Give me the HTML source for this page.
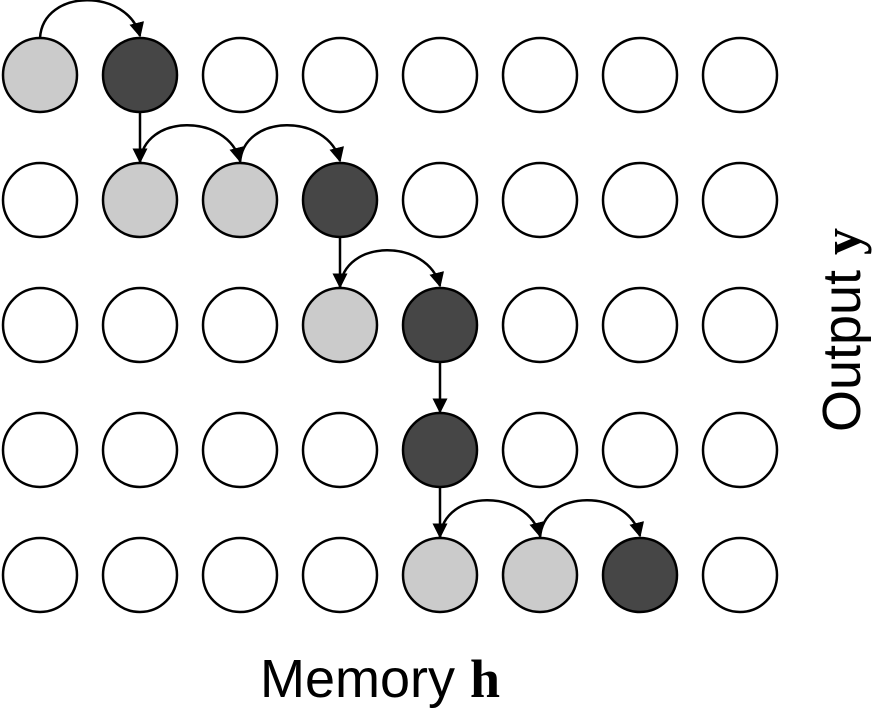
<!DOCTYPE html>
<html>
<head>
<meta charset="utf-8">
<style>
html,body{margin:0;padding:0;background:#fff;}
svg{display:block;}
text{font-family:"Liberation Sans",sans-serif;}
</style>
</head>
<body>
<svg id="chart" width="876" height="710" viewBox="0 0 876 710" xmlns="http://www.w3.org/2000/svg">
<defs>
<marker id="ah" viewBox="0 0 10 10" refX="9" refY="5" markerWidth="6" markerHeight="6" orient="auto">
<path d="M0,0 L10,5 L0,10 z" fill="#000"/>
</marker>
</defs>
<g id="cells"></g>
<g id="arrows"></g>
<text transform="translate(860,330) rotate(-90)" text-anchor="middle" font-size="54">Output <tspan font-family="Liberation Serif" font-weight="bold">y</tspan></text>
<text x="260" y="697" font-size="54">Memory <tspan font-family="Liberation Serif" font-weight="bold">h</tspan></text>
</svg>
<script>
const nCols = 8;
const nRows = 5;
// state per row: 0 empty, 1 light (read), 2 dark (write)
const rowStates = [
  [1,2,0,0,0,0,0,0],
  [0,1,1,2,0,0,0,0],
  [0,0,0,1,2,0,0,0],
  [0,0,0,0,2,0,0,0],
  [0,0,0,0,1,1,2,0]
];
// horizontal arcs: [row, fromCol, toCol]
const arcs = [[0,0,1],[1,1,2],[1,2,3],[2,3,4],[4,4,5],[4,5,6]];
// vertical drops: [fromRow, col]
const drops = [[0,1],[1,3],[2,4],[3,4]];

const NS = "http://www.w3.org/2000/svg";
const cx = c => 40 + c * 100;
const cy = r => 75 + r * 125;
const R = 37;
const fills = ["#ffffff", "#cbcbcb", "#464646"];
const cells = document.getElementById('cells');
for (let r = 0; r < nRows; r++) {
  for (let c = 0; c < nCols; c++) {
    const e = document.createElementNS(NS, 'circle');
    e.setAttribute('cx', cx(c));
    e.setAttribute('cy', cy(r));
    e.setAttribute('r', R);
    e.setAttribute('fill', fills[rowStates[r][c]]);
    e.setAttribute('stroke', '#000');
    e.setAttribute('stroke-width', '2.5');
    
    
    cells.appendChild(e);
  }
}
const arrows = document.getElementById('arrows');
arcs.forEach(a => {
  const x1 = cx(a[1]), x2 = cx(a[2]), y = cy(a[0]) - R;
  const p = document.createElementNS(NS, 'path');
  p.setAttribute('d', `M${x1},${y} C${x1+3},${y-50} ${x2-12},${y-50} ${x2},${y-2}`);
  p.setAttribute('fill', 'none');
  p.setAttribute('stroke', '#000');
  p.setAttribute('stroke-width', '2.5');
  p.setAttribute('marker-end', 'url(#ah)');
  
  
  arrows.appendChild(p);
});
drops.forEach(d => {
  const x = cx(d[1]);
  const l = document.createElementNS(NS, 'line');
  l.setAttribute('x1', x);
  l.setAttribute('y1', cy(d[0]) + R);
  l.setAttribute('x2', x);
  l.setAttribute('y2', cy(d[0] + 1) - R - 1);
  l.setAttribute('stroke', '#000');
  l.setAttribute('stroke-width', '2.5');
  l.setAttribute('marker-end', 'url(#ah)');
  
  
  arrows.appendChild(l);
});
</script>
</body>
</html>
